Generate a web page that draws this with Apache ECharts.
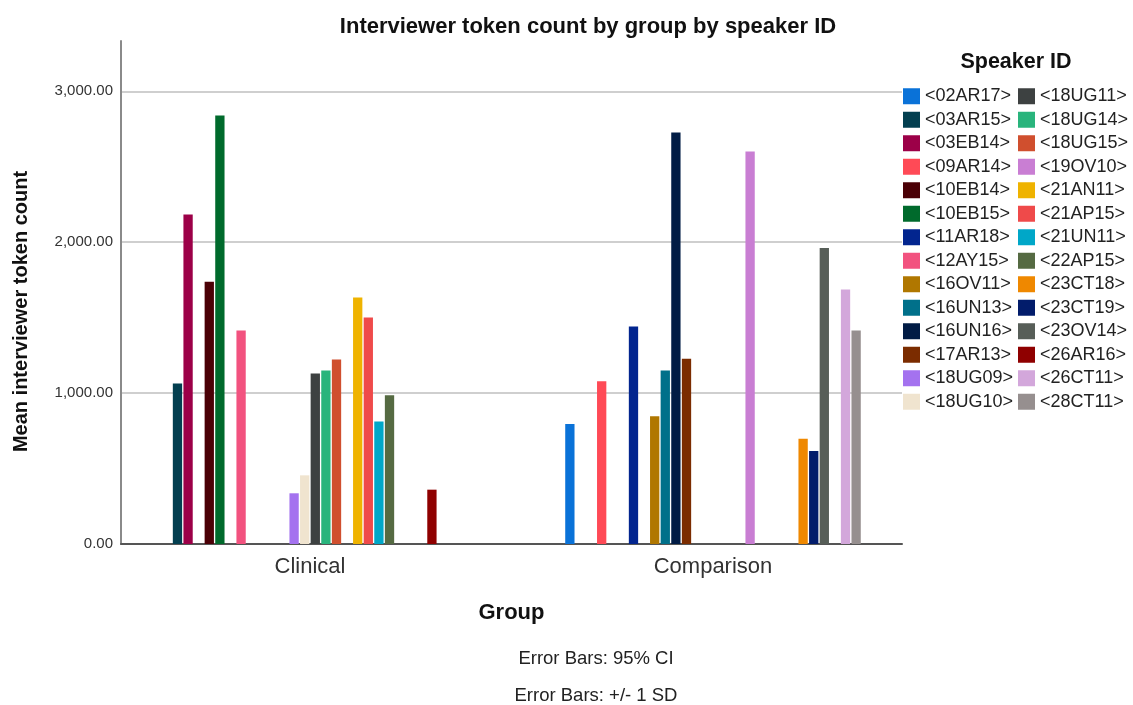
<!DOCTYPE html>
<html>
<head>
<meta charset="utf-8">
<script src="https://cdn.jsdelivr.net/npm/echarts@6/dist/echarts.min.js"></script>
<style>
  html, body { margin: 0; padding: 0; background: #ffffff; }
  #chart { width: 1133px; height: 705px; }
</style>
</head>
<body>
<div id="chart"></div>
<script>
// Groups on the x axis
const groups = ['Clinical', 'Comparison'];

// Speaker IDs (one bar series each)
const speakers = [
  '<02AR17>', '<03AR15>', '<03EB14>', '<09AR14>', '<10EB14>', '<10EB15>', '<11AR18>',
  '<12AY15>', '<16OV11>', '<16UN13>', '<16UN16>', '<17AR13>', '<18UG09>', '<18UG10>',
  '<18UG11>', '<18UG14>', '<18UG15>', '<19OV10>', '<21AN11>', '<21AP15>', '<21UN11>',
  '<22AP15>', '<23CT18>', '<23CT19>', '<23OV14>', '<26AR16>', '<26CT11>', '<28CT11>'
];

// Mean interviewer token count per speaker, Clinical group (null = speaker not in group)
const clinical = [
  null, 1064, 2183, null, 1737, 2839, null,
  1415, null, null, null, null, 336, 455,
  1130, 1150, 1223, null, 1634, 1501, 812,
  985, null, null, null, 360, null, null
];

// Mean interviewer token count per speaker, Comparison group
const comparison = [
  795, null, null, 1079, null, null, 1442,
  null, 846, 1150, 2726, 1227, null, null,
  null, null, null, 2600, null, null, null,
  null, 697, 616, 1962, null, 1687, 1415
];

const speakerColors = [
  '#0a72d8', '#033f50', '#9c0048', '#ff4a56', '#4b0006', '#006a2c', '#02258f',
  '#f2527f', '#b07700', '#00708a', '#011c45', '#7b2c00', '#a472ef', '#f0e4cf',
  '#3d4141', '#29b47c', '#d04f2e', '#c97ed3', '#efb300', '#ef4a4a', '#00a7c8',
  '#556a42', '#ef8800', '#021c6b', '#575e58', '#8f0000', '#d3a7db', '#968f8f'
];

// Value axis range and tick step
const yMin = 0;
const yMax = 3333;
const yStep = 1000;

const FONT = '"Liberation Sans", Arial, Helvetica, sans-serif';
const fmt = v => v.toLocaleString('en-US', { minimumFractionDigits: 2, maximumFractionDigits: 2 });

const series = speakers.map((name, i) => ({
  name: name,
  type: 'bar',
  xAxisIndex: 0,
  yAxisIndex: 0,
  barWidth: 9.3,
  barGap: '14%',
  itemStyle: { color: speakerColors[i] },
  emphasis: { disabled: true },
  data: [clinical[i], comparison[i]]
}));

const legendBase = {
  orient: 'vertical',
  top: 84.5,
  padding: 0,
  itemWidth: 17,
  itemHeight: 16,
  itemGap: 0,
  icon: 'rect',
  selectedMode: false,
  textStyle: { fontFamily: FONT, fontSize: 18, lineHeight: 23.5, color: '#222' }
};

const option = {
  backgroundColor: '#ffffff',
  animation: false,
  textStyle: { fontFamily: FONT },
  grid: [
    // bar grid: category bands centred under the group labels
    { left: 108.5, right: 218.5, top: 41, bottom: 161 },
    // frame grid: axis lines and gridlines
    { left: 121, right: 231, top: 41, bottom: 161 }
  ],
  xAxis: [
    {
      type: 'category', gridIndex: 0, data: groups,
      axisLine: { show: false }, axisTick: { show: false },
      axisLabel: { fontSize: 22, color: '#333', margin: 12, fontFamily: FONT },
      name: 'Group', nameLocation: 'middle', nameGap: 58,
      nameTextStyle: { fontSize: 22, fontWeight: 'bold', color: '#111', fontFamily: FONT }
    },
    {
      type: 'category', gridIndex: 1, data: groups,
      axisLine: { show: true, lineStyle: { color: '#555', width: 2 } },
      axisTick: { show: false }, axisLabel: { show: false }
    }
  ],
  yAxis: [
    {
      type: 'value', gridIndex: 0, min: yMin, max: yMax, interval: yStep,
      show: false, splitLine: { show: false }
    },
    {
      type: 'value', gridIndex: 1, min: yMin, max: yMax, interval: yStep,
      axisLine: { show: true, lineStyle: { color: '#8a8a8a', width: 2 } },
      axisTick: { show: false },
      axisLabel: {
        fontSize: 15, color: '#333', margin: 8, fontFamily: FONT,
        showMaxLabel: false, formatter: v => fmt(v)
      },
      splitLine: {
        show: true, showMinLine: false, showMaxLine: false,
        lineStyle: { color: '#cfcfcf', width: 2 }
      }
    }
  ],
  legend: [
    Object.assign({}, legendBase, { left: 903, data: speakers.slice(0, 14) }),
    Object.assign({}, legendBase, { left: 1018, data: speakers.slice(14) })
  ],
  graphic: [
    {
      type: 'text', x: 588, y: 27, silent: true,
      style: {
        text: 'Interviewer token count by group by speaker ID',
        font: 'bold 22px ' + FONT, fill: '#111',
        textAlign: 'center', textVerticalAlign: 'middle', align: 'center', verticalAlign: 'middle'
      }
    },
    {
      type: 'text', x: 1016, y: 62, silent: true,
      style: {
        text: 'Speaker ID',
        font: 'bold 21.5px ' + FONT, fill: '#111',
        textAlign: 'center', textVerticalAlign: 'middle', align: 'center', verticalAlign: 'middle'
      }
    },
    {
      type: 'text', x: 21, y: 311.5, rotation: Math.PI / 2, silent: true,
      style: {
        text: 'Mean interviewer token count',
        font: 'bold 20px ' + FONT, fill: '#111',
        textAlign: 'center', textVerticalAlign: 'middle', align: 'center', verticalAlign: 'middle'
      }
    },
    {
      type: 'text', x: 596, y: 659, silent: true,
      style: {
        text: 'Error Bars: 95% CI',
        font: '18.5px ' + FONT, fill: '#222',
        textAlign: 'center', textVerticalAlign: 'middle', align: 'center', verticalAlign: 'middle'
      }
    },
    {
      type: 'text', x: 596, y: 696, silent: true,
      style: {
        text: 'Error Bars: +/- 1 SD',
        font: '18.5px ' + FONT, fill: '#222',
        textAlign: 'center', textVerticalAlign: 'middle', align: 'center', verticalAlign: 'middle'
      }
    }
  ],
  series: series
};

const chart = echarts.init(document.getElementById('chart'), null, { renderer: 'canvas' });
chart.setOption(option);
</script>
</body>
</html>
